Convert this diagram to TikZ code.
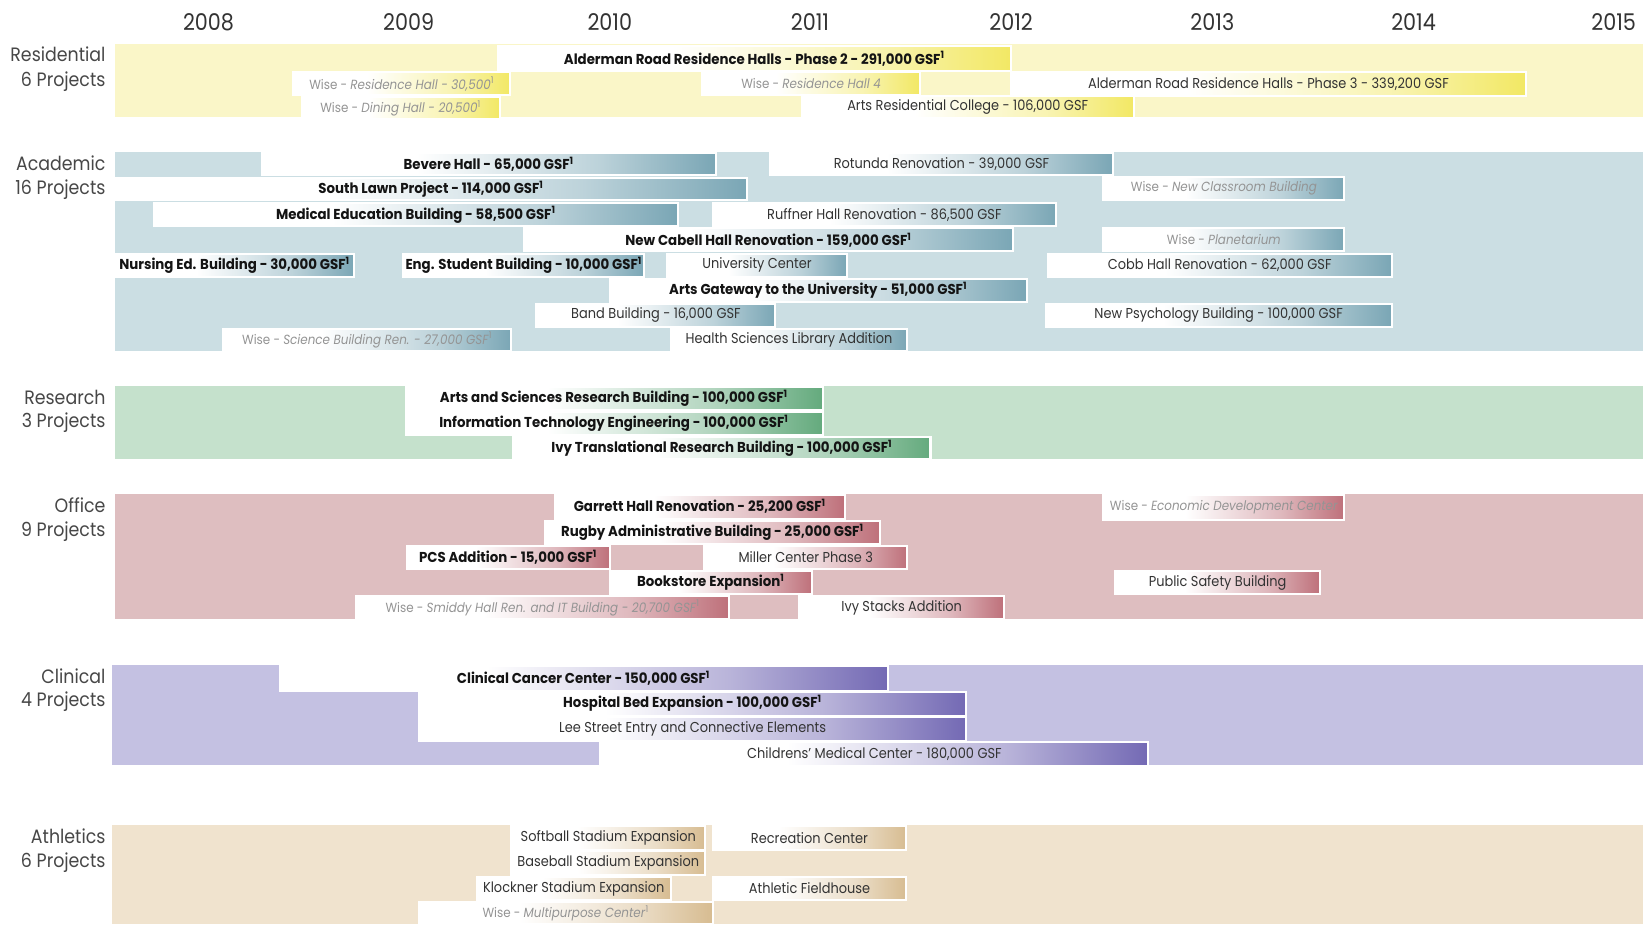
\documentclass[tikz,border=0pt]{standalone}
\usepackage{fontspec}
\setmainfont{Poppins}[FakeStretch=0.9, BoldFeatures={FakeStretch=0.93}]
\definecolor{resBand}{RGB}{250,246,200}
\definecolor{resBar}{RGB}{242,232,100}
\definecolor{acaBand}{RGB}{203,222,227}
\definecolor{acaBar}{RGB}{122,166,181}
\definecolor{srcBand}{RGB}{197,225,204}
\definecolor{srcBar}{RGB}{100,170,125}
\definecolor{offBand}{RGB}{222,190,192}
\definecolor{offBar}{RGB}{190,112,122}
\definecolor{cliBand}{RGB}{196,193,226}
\definecolor{cliBar}{RGB}{115,105,180}
\definecolor{athBand}{RGB}{240,227,206}
\definecolor{athBar}{RGB}{215,188,145}
\definecolor{barc}{RGB}{242,232,100}
\colorlet{barm}{barc!50!white}
\pgfdeclarehorizontalshading[barc,barm]{barshade}{100bp}{color(0bp)=(white); color(25bp)=(white); color(42bp)=(white); color(62bp)=(barm); color(75bp)=(barc); color(100bp)=(barc)}
\newcommand{\prjbar}[7][]{%
  \pgfmathsetmacro{\pbw}{(#4-#3)*0.02}%
  \pgfmathsetmacro{\pbh}{(#6-#5)*0.02}%
  \node[prjbox,#1,minimum width=\pbw cm, minimum height=\pbh cm] (#2) at ({(#3+#4)/2},{(#5+#6)/2}) {#7};}
\newcommand{\setbar}[1]{\colorlet{barc}{#1}\colorlet{barm}{barc!50!white}}
\newcommand{\sone}{\textsuperscript{1}}
\tikzset{
  bandbox/.style={fill=#1, draw=none},
  prjbox/.style={shade, shading=barshade, draw=white, line width=1.1pt, inner sep=0pt,
    font=\fontsize{7.8}{8}\selectfont, text=black!80},
  prjb/.style={font=\fontsize{7.8}{8}\selectfont\bfseries, text=black!92},
  wise/.style={text=black!42, font=\fontsize{7.2}{8}\selectfont},
  yearlbl/.style={font=\fontsize{12.5}{14}\selectfont, text=black!80},
  catlbl/.style={font=\fontsize{10.5}{12}\selectfont, text=black!72, anchor=east, inner sep=0pt}
}
\begin{document}
\begin{tikzpicture}[x=0.02cm, y=-0.02cm]
\useasboundingbox[fill=white] (0,0) rectangle (1568,882);
% years
\node[yearlbl] (y08) at (199,21) {2008};
\node[yearlbl] (y09) at (390,21) {2009};
\node[yearlbl] (y10) at (582,21) {2010};
\node[yearlbl] (y11) at (773,21) {2011};
\node[yearlbl] (y12) at (965,21) {2012};
\node[yearlbl] (y13) at (1157,21) {2013};
\node[yearlbl] (y14) at (1349,21) {2014};
\node[yearlbl] (y15) at (1540,21) {2015};
% category labels
\node[catlbl] (lr1) at (101,52) {Residential};
\node[catlbl] (lr2) at (101,78) {6 Projects};
\node[catlbl] (la1) at (101,156) {Academic};
\node[catlbl] (la2) at (101,181) {16 Projects};
\node[catlbl] (ls1) at (101,379) {Research};
\node[catlbl] (ls2) at (101,403) {3 Projects};
\node[catlbl] (lo1) at (101,482) {Office};
\node[catlbl] (lo2) at (101,507) {9 Projects};
\node[catlbl] (lc1) at (101,645) {Clinical};
\node[catlbl] (lc2) at (101,670) {4 Projects};
\node[catlbl] (lt1) at (101,798) {Athletics};
\node[catlbl] (lt2) at (101,823) {6 Projects};
% Residential
\begin{scope}
\setbar{resBar}
\fill[bandbox=resBand] (110,42) rectangle (1568,112);
\prjbar[prjb]{r1}{475}{965}{44}{68}{Alderman Road Residence Halls - Phase 2 - 291,000 GSF\sone}
\prjbar[wise]{r2}{280}{487}{69}{91}{Wise - \textit{Residence Hall - 30,500}\sone}
\prjbar[wise]{r3}{288}{477}{93}{114}{Wise - \textit{Dining Hall - 20,500}\sone}
\prjbar[wise]{r4}{670}{878}{69}{91}{Wise - \textit{Residence Hall 4}}
\prjbar{r5}{965}{1456}{69}{92}{Alderman Road Residence Halls - Phase 3 - 339,200 GSF}
\prjbar{r6}{765}{1082}{92}{113}{Arts Residential College - 106,000 GSF}
\end{scope}
% Academic
\begin{scope}
\setbar{acaBar}
\fill[bandbox=acaBand] (110,145) rectangle (1568,335);
\prjbar[prjb]{a1}{250}{683}{146}{167}{Bevere Hall - 65,000 GSF\sone}
\prjbar{a2}{735}{1062}{146}{167}{Rotunda Renovation - 39,000 GSF}
\prjbar[prjb]{a3}{110}{713}{170}{191}{South Lawn Project - 114,000 GSF\sone}
\prjbar[wise]{a4}{1053}{1283}{169}{191}{Wise - \textit{New Classroom Building}}
\prjbar[prjb]{a5}{147}{647}{194}{216}{Medical Education Building - 58,500 GSF\sone}
\prjbar{a6}{680}{1008}{194}{216}{Ruffner Hall Renovation - 86,500 GSF}
\prjbar[prjb]{a7}{500}{967}{218}{240}{New Cabell Hall Renovation - 159,000 GSF\sone}
\prjbar[wise]{a8}{1053}{1283}{218}{240}{Wise - \textit{Planetarium}}
\prjbar[prjb]{a9}{110}{338}{242}{264}{Nursing Ed. Building - 30,000 GSF\sone}
\prjbar[prjb]{a10}{385}{615}{242}{264}{Eng. Student Building - 10,000 GSF\sone}
\prjbar{a11}{637}{808}{242}{264}{University Center}
\prjbar{a12}{1000}{1328}{242}{264}{Cobb Hall Renovation - 62,000 GSF}
\prjbar[prjb]{a13}{582}{980}{266}{288}{Arts Gateway to the University - 51,000 GSF\sone}
\prjbar{a14}{512}{740}{290}{312}{Band Building - 16,000 GSF}
\prjbar{a15}{998}{1328}{290}{312}{New Psychology Building - 100,000 GSF}
\prjbar[wise]{a16}{213}{488}{314}{335}{Wise - \textit{Science Building Ren. - 27,000 GSF}\sone}
\prjbar{a17}{640}{866}{314}{335}{Health Sciences Library Addition}
\end{scope}
% Research
\begin{scope}
\setbar{srcBar}
\fill[bandbox=srcBand] (110,368) rectangle (1568,438);
\prjbar[prjb]{s1}{387}{785}{369}{391}{Arts and Sciences Research Building - 100,000 GSF\sone}
\prjbar[prjb]{s2}{387}{785}{393}{415}{Information Technology Engineering - 100,000 GSF\sone}
\prjbar[prjb]{s3}{490}{888}{417}{438}{Ivy Translational Research Building - 100,000 GSF\sone}
\end{scope}
% Office
\begin{scope}
\setbar{offBar}
\fill[bandbox=offBand] (110,471) rectangle (1568,591);
\prjbar[prjb]{o1}{530}{806}{472}{495}{Garrett Hall Renovation - 25,200 GSF\sone}
\prjbar[wise]{o2}{1053}{1283}{472}{496}{Wise - \textit{Economic Development Center}}
\prjbar[prjb]{o3}{520}{840}{497}{519}{Rugby Administrative Building - 25,000 GSF\sone}
\prjbar[prjb]{o4}{388}{582}{521}{543}{PCS Addition - 15,000 GSF\sone}
\prjbar{o5}{672}{866}{521}{543}{Miller Center Phase 3}
\prjbar[prjb]{o6}{582}{775}{545}{567}{Bookstore Expansion\sone}
\prjbar{o7}{1064}{1260}{545}{567}{Public Safety Building}
\prjbar[wise]{o8}{340}{696}{569}{591}{Wise - \textit{Smiddy Hall Ren. and IT Building - 20,700 GSF}\sone}
\prjbar{o9}{763}{958}{569}{591}{Ivy Stacks Addition}
\end{scope}
% Clinical
\begin{scope}
\setbar{cliBar}
\fill[bandbox=cliBand] (107,635) rectangle (1568,730);
\prjbar[prjb]{c1}{267}{847}{636}{659}{Clinical Cancer Center - 150,000 GSF\sone}
\prjbar[prjb]{c2}{400}{922}{660}{683}{Hospital Bed Expansion - 100,000 GSF\sone}
\prjbar{c3}{400}{922}{684}{707}{Lee Street Entry and Connective Elements}
\prjbar{c4}{573}{1096}{708}{731}{Childrens' Medical Center - 180,000 GSF}
\end{scope}
% Athletics
\begin{scope}
\setbar{athBar}
\fill[bandbox=athBand] (107,787) rectangle (1568,882);
\prjbar{t1}{488}{673}{788}{811}{Softball Stadium Expansion}
\prjbar{t2}{680}{865}{788}{811}{Recreation Center}
\prjbar{t3}{488}{673}{812}{835}{Baseball Stadium Expansion}
\prjbar{t4}{455}{640}{837}{859}{Klockner Stadium Expansion}
\prjbar{t5}{680}{865}{837}{859}{Athletic Fieldhouse}
\prjbar[wise]{t6}{400}{680}{861}{882}{Wise - \textit{Multipurpose Center}\sone}
\end{scope}
\end{tikzpicture}
\end{document}
